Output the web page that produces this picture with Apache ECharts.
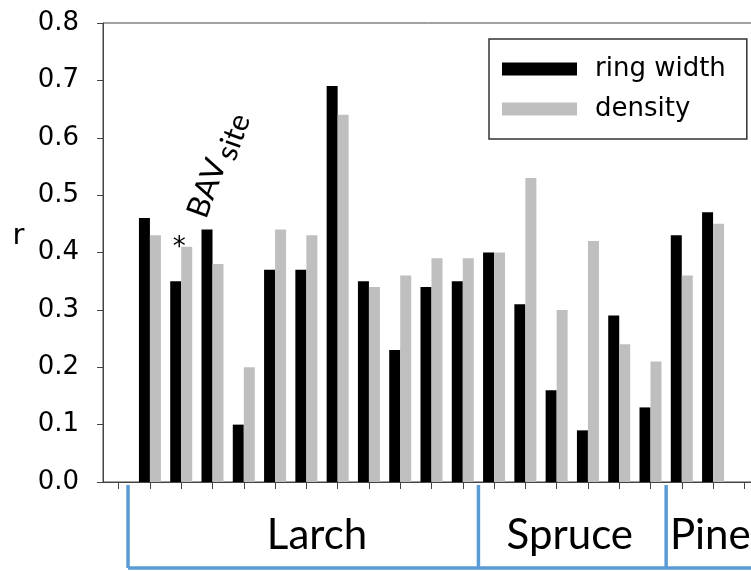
<!DOCTYPE html>
<html><head><meta charset="utf-8">
<script src="https://cdn.jsdelivr.net/npm/echarts@6/dist/echarts.min.js"></script>
<style>html,body{margin:0;padding:0;background:#fff}#c{width:751px;height:571px}</style>
</head><body><div id="c"></div>
<script>
const sites = ['', 'L1','L2','L3','L4','L5','L6','L7','L8','L9','L10','L11','S1','S2','S3','S4','S5','S6','P1','P2',''];
const ringWidth = [null,0.46,0.35,0.44,0.10,0.37,0.37,0.69,0.35,0.23,0.34,0.35,0.40,0.31,0.16,0.09,0.29,0.13,0.43,0.47,null];
const density   = [null,0.43,0.41,0.38,0.20,0.44,0.43,0.64,0.34,0.36,0.39,0.39,0.40,0.53,0.30,0.42,0.24,0.21,0.36,0.45,null];
const seriesNames = ['ring width', 'density'];
const groupNames = ['Larch', 'Spruce', 'Pine'];
const groupFrom = [0.8, 12, 18];
const groupTo = [12, 18, 22];
const groupLabelAt = [6.84, 14.92, 18.12];
const groupLabelAlign = ['center', 'center', 'left'];
const markedSite = 2;

const chart = echarts.init(document.getElementById('c'), null, {renderer: 'canvas'});
const axisColor = '#444';
chart.setOption({
  animation: false,
  backgroundColor: '#fff',
  grid: {left: 103, top: 23, width: 657, height: 459, outerBoundsMode: 'none', containLabel: false, show: true, borderColor: axisColor, borderWidth: 1, backgroundColor: 'transparent'},
  legend: {
    left: 489, top: 39, orient: 'vertical', itemWidth: 75, itemHeight: 13, itemGap: 10,
    padding: [15, 21, 15, 13], borderColor: '#333', borderWidth: 1.5, icon: 'rect', selectedMode: false,
    textStyle: {fontFamily: 'DejaVu Sans', fontSize: 26, color: '#000', lineHeight: 30, padding: [0, 0, 0, 13]},
    data: seriesNames
  },
  xAxis: {
    type: 'category', data: sites,
    axisLine: {show: true, lineStyle: {color: axisColor, width: 1}},
    axisTick: {show: true, alignWithLabel: true, length: 7, lineStyle: {color: axisColor}},
    axisLabel: {show: false},
    splitLine: {show: false}
  },
  yAxis: {
    type: 'value', min: 0, max: 0.8, interval: 0.1,
    axisLine: {show: true, lineStyle: {color: axisColor, width: 1}},
    axisTick: {show: true, length: 6, lineStyle: {color: axisColor}},
    axisLabel: {formatter: v => v.toFixed(1), fontFamily: 'DejaVu Sans', fontSize: 26, color: '#000', margin: 24},
    splitLine: {show: false}
  },
  series: [
    {name: seriesNames[0], type: 'bar', data: ringWidth, barWidth: 11, barGap: '0%', itemStyle: {color: '#000'}},
    {name: seriesNames[1], type: 'bar', data: density, barWidth: 11, barGap: '0%', itemStyle: {color: '#bfbfbf'}}
  ]
});

const pa = chart.convertToPixel({gridIndex: 0}, [sites[1], 0]);
const pb = chart.convertToPixel({gridIndex: 0}, [sites[2], 0]);
const w = pb[0] - pa[0];
const bx = u => pa[0] + (u - 1.5) * w;
const y0 = pa[1];
const blue = '#5b9bd5';
const lineTop = y0 + 3, lineBot = 568;
const g = [];
groupNames.forEach((n, i) => {
  g.push({type: 'line', shape: {x1: bx(groupFrom[i]), y1: lineTop, x2: bx(groupFrom[i]), y2: lineBot}, style: {stroke: blue, lineWidth: 3.5}});
  g.push({type: 'text', x: bx(groupLabelAt[i]), y: 535, style: {text: n, font: '42px Lato', fill: '#000', textAlign: groupLabelAlign[i], textVerticalAlign: 'middle'}});
});
g.push({type: 'line', shape: {x1: bx(groupFrom[0]), y1: lineBot, x2: 760, y2: lineBot}, style: {stroke: blue, lineWidth: 3.5}});
g.push({type: 'text', x: 18.5, y: 236, style: {text: 'r', font: '29px "DejaVu Sans"', fill: '#000', textAlign: 'center', textVerticalAlign: 'middle'}});
const mk = chart.convertToPixel({gridIndex: 0}, [sites[markedSite], density[markedSite]]);
g.push({type: 'text', x: mk[0] - 2, y: mk[1] - 12, style: {text: '*', font: '26px "DejaVu Sans"', fill: '#000', textAlign: 'center', textVerticalAlign: 'top'}});
g.push({type: 'group', x: mk[0] + 30, y: mk[1] - 25, rotation: 70 * Math.PI / 180, children: [
  {type: 'text', x: 0, y: 0, style: {text: 'BAV', font: '31px Lato', fill: '#000', textVerticalAlign: 'bottom'}},
  {type: 'text', x: 64, y: 7, style: {text: 'site', font: '30px Lato', fill: '#000', textVerticalAlign: 'bottom'}}
]});
chart.setOption({graphic: g});
</script></body></html>
